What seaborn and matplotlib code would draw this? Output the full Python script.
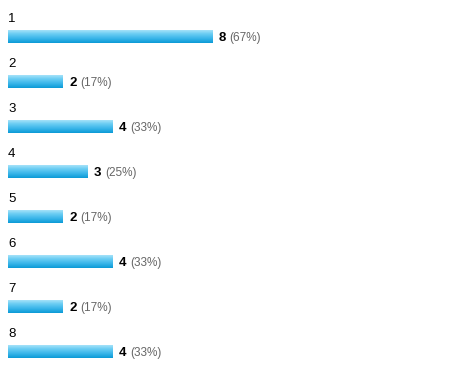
import numpy as np
import pandas as pd
import matplotlib
matplotlib.use("Agg")
import matplotlib.pyplot as plt
import seaborn as sns
from matplotlib.colors import LinearSegmentedColormap

categories = ["1", "2", "3", "4", "5", "6", "7", "8"]
counts = [8, 2, 4, 3, 2, 4, 2, 4]
percents = ["67%", "17%", "33%", "25%", "17%", "33%", "17%", "33%"]

sns.set_theme(style="white")
plt.rcParams['font.family'] = ['Liberation Sans', 'DejaVu Sans']

df = pd.DataFrame({"cat": categories, "count": counts})

fig = plt.figure(figsize=(4.5, 3.76), dpi=100)
ax = fig.add_axes([0, 0, 1, 1])
sns.barplot(data=df, y="cat", x="count", orient="h", ax=ax, width=0.29,
            color="#2cb2ea", saturation=1)

px = 25.0  # pixels per unit
x0 = -0.2
ax.set_xlim(x0 - 8 / px, x0 - 8 / px + 450 / px)
ax.set_ylim(7 + (376 - 36.5 - 7 * 45) / 45, -36.5 / 45)
ax.axis("off")

cmap = LinearSegmentedColormap.from_list("g", ["#0b9ad6", "#3ab6ea", "#6ccdf3", "#b4e8fb"])
grad = np.linspace(0, 1, 64).reshape(-1, 1)
for i, p in enumerate(ax.patches):
    w = p.get_width()
    p.set_x(x0)
    p.set_width(w - x0)
    p.set_edgecolor("none")
    y_top = p.get_y()
    h = p.get_height()
    im = ax.imshow(grad, cmap=cmap, aspect="auto", origin="lower",
                   extent=[x0, w, y_top + h, y_top], zorder=3)
    im.set_clip_path(p)

num_texts = []
for i, (c, v) in enumerate(zip(categories, counts)):
    ax.text(x0, i - 0.39, c, ha="left", va="center", fontsize=9.5, color="#000000")
    t = ax.text(v + 6 / px, i + 4.8 / 45, str(v), ha="left", va="baseline",
                fontsize=9.5, fontweight="bold", color="#000000")
    num_texts.append(t)

fig.canvas.draw()
renderer = fig.canvas.get_renderer()
inv = ax.transData.inverted()
for i, (t, pc) in enumerate(zip(num_texts, percents)):
    bb = t.get_window_extent(renderer)
    xd = inv.transform((bb.x1 + 3.5, 0))[0]
    ax.text(xd, i + 4.8 / 45, f"({pc})", ha="left", va="baseline",
            fontsize=8.5, color="#666666")

fig.savefig("out.png", dpi=100, facecolor="white")
